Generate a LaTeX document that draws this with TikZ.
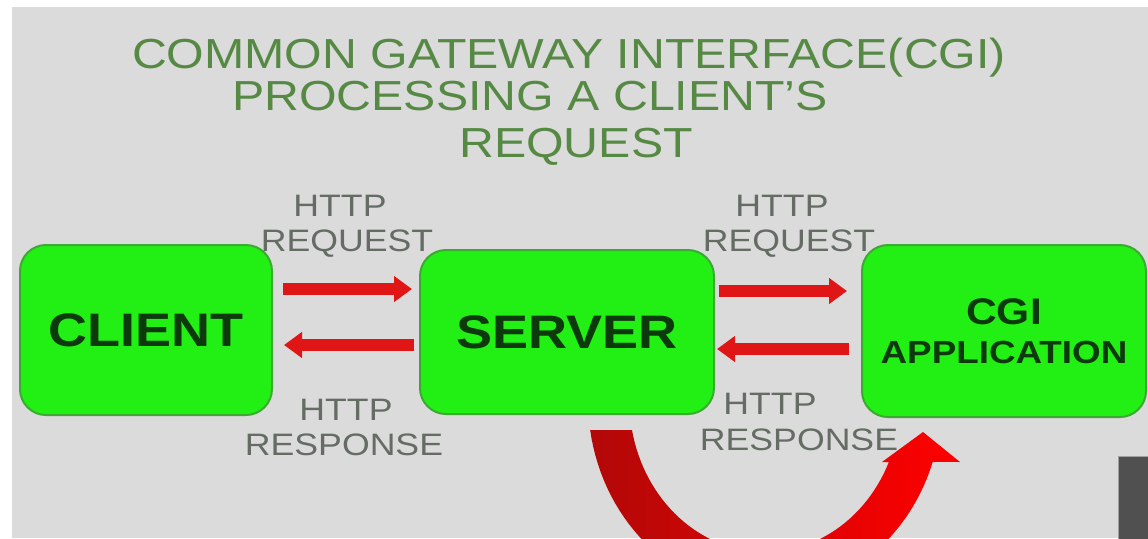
\documentclass[tikz,border=0pt]{standalone}
\usepackage{fontspec}
\setmainfont{Liberation Sans}[FakeStretch=1.15]
\usetikzlibrary{arrows.meta}

\definecolor{panel}{RGB}{219,219,219}
\definecolor{boxgreen}{RGB}{34,240,20}
\definecolor{boxedge}{RGB}{60,170,50}
\definecolor{boxtext}{RGB}{12,58,12}
\definecolor{titlegreen}{RGB}{86,138,68}
\definecolor{labelgray}{RGB}{100,108,100}
\definecolor{flowred}{RGB}{224,22,22}
\definecolor{deepred}{RGB}{178,8,8}
\definecolor{midred}{RGB}{232,6,6}
\definecolor{slate}{RGB}{80,80,80}

\newcommand\fsz[1]{\fontsize{#1pt}{#1pt}\selectfont}

\tikzset{
  titleline/.style={anchor=base, inner sep=0pt, text=titlegreen, font=\fsz{21}},
  lbl/.style={anchor=base, inner sep=0pt, text=labelgray, font=\fsz{15.5}},
  box/.style={draw=boxedge, line width=1pt, fill=boxgreen, rounded corners=13pt,
    inner sep=0pt, text=boxtext, font=\bfseries\fsz{23.5}, align=center},
  flow/.style={draw=flowred, line width=6pt,
    -{Triangle[length=9pt,width=12.5pt]}},
}

\begin{document}
\begin{tikzpicture}[x=0.5pt,y=-0.5pt]
  % page and slide panel
  \useasboundingbox (0,0) rectangle (1148,538);
  \fill[white] (0,0) rectangle (1148,538);
  \fill[panel] (12,7) rectangle (1148,538);

  % heading
  \node[titleline] (t1) at (569,68) {COMMON GATEWAY INTERFACE(CGI)};
  \node[titleline] (t2) at (530,110) {PROCESSING A CLIENT'S};
  \node[titleline] (t3) at (576,157) {REQUEST};

  % the three parties
  \node[box, minimum width=126pt, minimum height=85pt] (client) at (146,330) {CLIENT};
  \node[box, minimum width=147pt, minimum height=82pt] (server) at (567,332) {SERVER};
  \node[box, minimum width=142pt, minimum height=86pt] (cgi) at (1004,331)
    {{\fsz{18.5}CGI}\\[-4pt]{\fsz{16}APPLICATION}};

  % rows of the message arrows
  \coordinate (rowA) at (0,289);
  \coordinate (rowB) at (0,345);
  \coordinate (rowC) at (0,291);
  \coordinate (rowD) at (0,349);

  \draw[flow, shorten <=5pt, shorten >=3.5pt] (client.east |- rowA) -- (server.west |- rowA);
  \draw[flow, shorten <=2.5pt, shorten >=5.5pt] (server.west |- rowB) -- (client.east |- rowB);
  \draw[flow, shorten <=2pt, shorten >=7pt] (server.east |- rowC) -- (cgi.west |- rowC);
  \draw[flow, shorten <=6pt, shorten >=1pt] (cgi.west |- rowD) -- (server.east |- rowD);

  % arrow labels
  \node[lbl] (lq1) at (340,216) {HTTP};
  \node[lbl] (lq2) at (347,251) {REQUEST};
  \node[lbl] (lr1) at (346,420) {HTTP};
  \node[lbl] (lr2) at (344,455) {RESPONSE};
  \node[lbl] (rq1) at (782,216) {HTTP};
  \node[lbl] (rq2) at (789,251) {REQUEST};
  \node[lbl] (rr1) at (770,414) {HTTP};
  \node[lbl] (rr2) at (799,450) {RESPONSE};

  % curved hand-off from the server to the CGI application
  \begin{scope}
    \clip (12,7) rectangle (1148,538);
    \shade[left color=deepred, middle color=midred, right color=red]
      (590,430)
      -- plot[domain=171.1:18.6, samples=60, variable=\t]
           ({765+177*cos(\t)},{400+194*sin(\t)})
      -- (960,462) -- (923,432) -- (882,462)
      -- plot[domain=24.1:168.6, samples=60, variable=\t]
           ({765+135.7*cos(\t)},{400+152*sin(\t)})
      -- cycle;
  \end{scope}

  % dark tab in the lower right corner
  \fill[slate, draw=gray!75, line width=0.5pt] (1118,456) rectangle (1152,542);
\end{tikzpicture}
\end{document}
